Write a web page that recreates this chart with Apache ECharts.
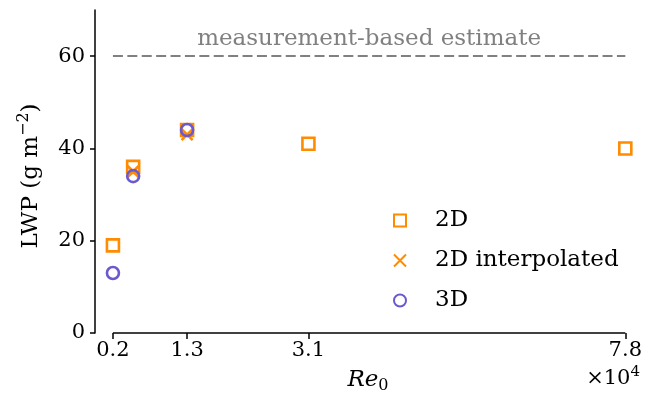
<!DOCTYPE html>
<html>
<head>
<meta charset="utf-8">
<script src="https://cdn.jsdelivr.net/npm/echarts@6.0.0/dist/echarts.min.js"></script>
<style>
  html, body { margin: 0; padding: 0; background: #fff; }
  #chart { width: 645px; height: 395px; }
</style>
</head>
<body>
<div id="chart"></div>
<script>
// values (Re0 in units of 1e4, LWP in g m^-2)
const re2D = [0.2, 0.5, 1.3, 3.1, 7.8];
const lwp2D = [19, 36, 44, 41, 40];
const reInterp = [0.5, 1.3];
const lwpInterp = [35, 43];
const re3D = [0.2, 0.5, 1.3];
const lwp3D = [13, 34, 44];
const xTicks = [0.2, 1.3, 3.1, 7.8];
const yTicks = [0, 20, 40, 60];
const estimateLWP = 60;

const FONT = 'DejaVu Serif';
const ORANGE = '#ff8c00';
const PURPLE = '#6a5acd';
const CROSS = 'path://M0,0L10,10M10,0L0,10';

const pairs = (xs, ys) => xs.map((x, i) => [x, ys[i]]);
const xFirst = xTicks[0];
const xLast = xTicks[xTicks.length - 1];

const chart = echarts.init(document.getElementById('chart'));

chart.setOption({
  animation: false,
  grid: { left: 95, right: 18, top: 10, bottom: 62 },
  xAxis: {
    type: 'value',
    min: -0.066,
    max: 7.8,
    axisLine: { show: false },
    splitLine: { show: false },
    axisTick: { show: true, customValues: xTicks, length: 6, lineStyle: { color: '#000', width: 1.5 } },
    axisLabel: {
      customValues: xTicks,
      formatter: (v) => v.toFixed(1),
      color: '#000', fontFamily: FONT, fontSize: 21, margin: 7,
    },
  },
  yAxis: {
    type: 'value',
    min: 0,
    max: 70,
    axisLine: { show: true, onZero: false, lineStyle: { color: '#000', width: 1.5 } },
    splitLine: { show: false },
    axisTick: { show: true, customValues: yTicks, length: 5, lineStyle: { color: '#000', width: 1.5 } },
    axisLabel: { customValues: yTicks, color: '#000', fontFamily: FONT, fontSize: 21, margin: 10 },
  },
  legend: {
    orient: 'vertical',
    left: 388,
    top: 204,
    itemWidth: 12,
    itemHeight: 12,
    itemGap: 17,
    data: ['2D', '2D interpolated', '3D'],
    textStyle: { fontFamily: FONT, fontSize: 23, color: '#000', padding: [0, 0, 0, 24] },
  },
  graphic: [
    {
      type: 'text',
      x: 368, y: 380,
      style: {
        text: '{i|Re}{s|0}',
        align: 'center', verticalAlign: 'middle',
        rich: {
          i: { fontFamily: FONT, fontStyle: 'italic', fontSize: 23, lineHeight: 28, fill: '#000' },
          s: { fontFamily: FONT, fontSize: 16, lineHeight: 18, verticalAlign: 'bottom', fill: '#000' },
        },
      },
    },
    {
      type: 'text',
      x: 640, y: 379,
      style: {
        text: '{m|×10}{p|4}',
        align: 'right', verticalAlign: 'middle',
        rich: {
          m: { fontFamily: FONT, fontSize: 21, lineHeight: 28, fill: '#000' },
          p: { fontFamily: FONT, fontSize: 15, lineHeight: 18, verticalAlign: 'top', fill: '#000' },
        },
      },
    },
    {
      type: 'text',
      x: 31, y: 176,
      rotation: Math.PI / 2,
      style: {
        text: '{m|LWP (g m}{p|−2}{m|)}',
        align: 'center', verticalAlign: 'middle',
        rich: {
          m: { fontFamily: FONT, fontSize: 23, lineHeight: 30, fill: '#000' },
          p: { fontFamily: FONT, fontSize: 16, lineHeight: 18, verticalAlign: 'top', fill: '#000' },
        },
      },
    },
  ],
  series: [
    {
      name: 'spine',
      type: 'line',
      data: [[xFirst, 0], [xLast, 0]],
      symbol: 'none',
      silent: true,
      clip: false,
      lineStyle: { color: '#000', width: 1.5 },
      markLine: {
        silent: true,
        symbol: 'none',
        lineStyle: { color: '#808080', width: 2, type: [10, 4.4] },
        label: {
          show: true,
          position: 'insideMiddleTop',
          formatter: 'measurement-based estimate',
          color: '#808080', fontFamily: FONT, fontSize: 23, distance: 6,
        },
        data: [[{ coord: [xFirst, estimateLWP] }, { coord: [xLast, estimateLWP] }]],
      },
    },
    {
      name: '2D',
      type: 'scatter',
      clip: false,
      symbol: 'rect',
      symbolSize: 12,
      data: pairs(re2D, lwp2D),
      itemStyle: { color: 'rgba(0,0,0,0)', borderColor: ORANGE, borderWidth: 2.6, opacity: 1 },
    },
    {
      name: '2D interpolated',
      type: 'scatter',
      clip: false,
      symbol: CROSS,
      symbolSize: 11,
      data: pairs(reInterp, lwpInterp),
      itemStyle: { color: 'rgba(0,0,0,0)', borderColor: ORANGE, borderWidth: 2.6, opacity: 1 },
    },
    {
      name: '3D',
      type: 'scatter',
      clip: false,
      symbol: 'circle',
      symbolSize: 12,
      data: pairs(re3D, lwp3D),
      itemStyle: { color: 'rgba(0,0,0,0)', borderColor: PURPLE, borderWidth: 2.6, opacity: 1 },
    },
  ],
});
</script>
</body>
</html>
